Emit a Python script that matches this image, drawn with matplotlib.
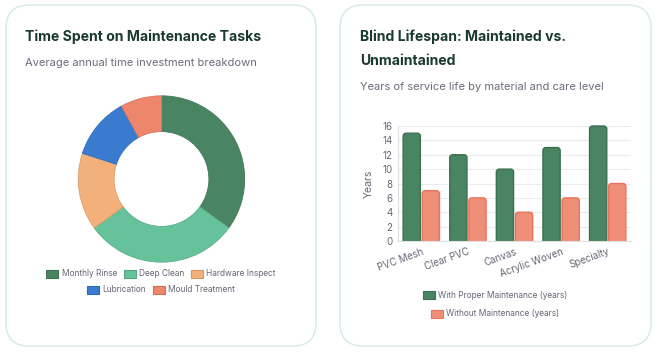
import matplotlib
matplotlib.use('Agg')
import matplotlib.pyplot as plt
from matplotlib.patches import FancyBboxPatch, Patch, Rectangle
import numpy as np

plt.rcParams['font.family'] = ['Inter', 'DejaVu Sans']

# donut data
tasks = ['Monthly Rinse', 'Deep Clean', 'Hardware Inspect', 'Lubrication', 'Mould Treatment']
task_share = [35, 30, 15, 12, 8]
task_colors = ['#4a8563', '#66c29a', '#f4b07a', '#3a7bd0', '#ee866b']

# bar data
materials = ['PVC Mesh', 'Clear PVC', 'Canvas', 'Acrylic Woven', 'Specialty']
maintained = [15, 12, 10, 13, 16]
unmaintained = [7, 6, 4, 6, 8]
y_ticks = [0, 2, 4, 6, 8, 10, 12, 14, 16]

W, H = 660, 354
fig = plt.figure(figsize=(W / 100, H / 100), dpi=100)


def fx(px):
    return px / W


def fy(py):
    return 1 - py / H


def axes_px(left, top, right, bottom):
    return fig.add_axes([fx(left), fy(bottom), fx(right - left), (bottom - top) / H])


# cards
for x0, x1 in [(6, 316), (340, 651)]:
    card = FancyBboxPatch((fx(x0), fy(346)), fx(x1 - x0), (346 - 5) / H,
                          boxstyle='round,pad=0,rounding_size=0.035',
                          transform=fig.transFigure, facecolor='white',
                          edgecolor='#d3ece0', linewidth=1.0, mutation_aspect=W / H,
                          zorder=-10)
    fig.patches.append(card)

title_col = '#1b3a2f'
sub_col = '#6b6b7b'

fig.text(fx(25), fy(37), 'Time Spent on Maintenance Tasks', fontsize=10.1,
         fontweight='bold', color=title_col, va='center')
fig.text(fx(25), fy(63), 'Average annual time investment breakdown', fontsize=8.0,
         color=sub_col, va='center')

fig.text(fx(360), fy(37), 'Blind Lifespan: Maintained vs.', fontsize=10.1,
         fontweight='bold', color=title_col, va='center')
fig.text(fx(360), fy(61), 'Unmaintained', fontsize=10.1,
         fontweight='bold', color=title_col, va='center')
fig.text(fx(360), fy(87), 'Years of service life by material and care level', fontsize=8.0,
         color=sub_col, va='center')

# donut
ax1 = axes_px(77, 95, 246, 263)
ax1.patch.set_alpha(0)
wedges, _ = ax1.pie(task_share, colors=task_colors, startangle=90, counterclock=False,
                    wedgeprops=dict(width=0.43, linewidth=0.6))
for w in wedges:
    c = np.array(matplotlib.colors.to_rgb(w.get_facecolor())) * 0.9
    w.set_edgecolor(c)
ax1.set_aspect('equal')
ax1.set_xlim(-1.01, 1.01)
ax1.set_ylim(-1.01, 1.01)

handles1 = [Patch(facecolor=c, edgecolor=np.array(matplotlib.colors.to_rgb(c)) * 0.85, linewidth=0.8)
            for c in task_colors]
leg_kw = dict(frameon=False, fontsize=6.0, handlelength=1.45, handleheight=1.1,
              handletextpad=0.4, columnspacing=0.8, labelcolor='#666677')
fig.legend(handles1[:3], tasks[:3], loc='center', bbox_to_anchor=(fx(161), fy(274)),
           ncol=3, **leg_kw)
fig.legend(handles1[3:], tasks[3:], loc='center', bbox_to_anchor=(fx(161), fy(290)),
           ncol=2, **leg_kw)

# bars
ax2 = axes_px(398, 126, 631, 241)
ax2.patch.set_alpha(0)
x = np.arange(len(materials))
bw = 0.37
green = '#4a8563'
salmon = '#ef8f78'
bars_g = ax2.bar(x - bw / 2 - 0.02, maintained, bw, color=green, edgecolor='#3b7050', linewidth=1, zorder=3)
bars_s = ax2.bar(x + bw / 2 + 0.02, unmaintained, bw, color=salmon, edgecolor='#e8735c', linewidth=1, zorder=3)
ax2.set_xlim(-0.5, len(materials) - 0.5)
ax2.set_ylim(0, 16)

# swap bar rectangles for ones with rounded tops
px_x = (631 - 398) / len(materials)
px_y = (241 - 126) / 16
rad = 3.0 / px_x
clip_box = Rectangle((-0.5, 0), len(materials), 18, transform=ax2.transData)
for rect in list(bars_g) + list(bars_s):
    rx, ry = rect.get_x(), rect.get_y()
    rw, rh = rect.get_width(), rect.get_height()
    extra = 4.0 / px_y
    rounded = FancyBboxPatch((rx, ry - extra), rw, rh + extra,
                             boxstyle='round,pad=0,rounding_size=%f' % rad,
                             mutation_aspect=px_x / px_y,
                             facecolor=rect.get_facecolor(), edgecolor=rect.get_edgecolor(),
                             linewidth=1, zorder=3)
    rect.set_visible(False)
    ax2.add_patch(rounded)
    rounded.set_clip_path(clip_box)

ax2.set_yticks(y_ticks)
ax2.set_xticks(x)
ax2.set_xticklabels(materials, rotation=20, ha='right', rotation_mode='anchor')
ax2.tick_params(axis='both', length=0, labelsize=7, labelcolor='#666677', pad=4)
ax2.grid(axis='y', color='#ebebeb', linewidth=0.8, zorder=0)
for s in ['top', 'right']:
    ax2.spines[s].set_visible(False)
ax2.spines['left'].set_color('#e0e0e0')
ax2.spines['bottom'].set_color('#e0e0e0')
ax2.spines['bottom'].set_zorder(4)
ax2.set_ylabel('Years', fontsize=7.5, color='#666677', labelpad=6)

handles2 = [Patch(facecolor=green, edgecolor='#3b7050', linewidth=0.8),
            Patch(facecolor=salmon, edgecolor='#e8735c', linewidth=0.8)]
labels2 = ['With Proper Maintenance (years)', 'Without Maintenance (years)']
fig.legend(handles2[:1], labels2[:1], loc='center', bbox_to_anchor=(fx(495), fy(295)), **leg_kw)
fig.legend(handles2[1:], labels2[1:], loc='center', bbox_to_anchor=(fx(495), fy(314)), **leg_kw)

fig.savefig('out.png', dpi=100)
